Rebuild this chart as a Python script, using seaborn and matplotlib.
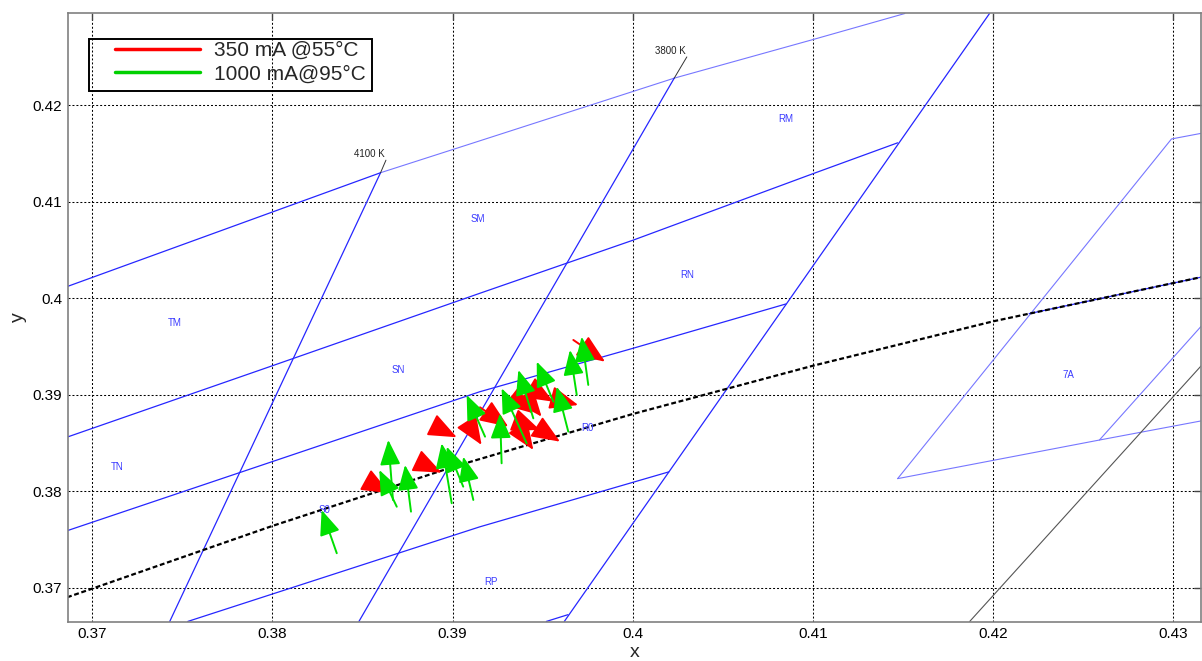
import matplotlib
matplotlib.use("Agg")
import numpy as np
import seaborn as sns
import matplotlib.pyplot as plt
from matplotlib.lines import Line2D
from matplotlib.patches import Rectangle

# --- chromaticity lines (CIE x, y) ---
planck_x = [0.3686, 0.37, 0.38, 0.39, 0.40, 0.41, 0.42, 0.4316]
planck_y = [0.3690, 0.3699, 0.3764, 0.3825, 0.3880, 0.3930, 0.3976, 0.4022]

# solid blue bin boundaries
blue_lines = [
    ([0.3686, 0.3860], [0.4012, 0.4130]),
    ([0.3686, 0.3800, 0.3915, 0.4000, 0.4100, 0.4147], [0.3856, 0.3930, 0.4005, 0.4060, 0.4129, 0.4161]),
    ([0.3686, 0.3915, 0.4000, 0.4085], [0.3759, 0.3903, 0.3948, 0.3994]),
    ([0.3753, 0.3915, 0.4020], [0.3665, 0.3763, 0.3820]),
    ([0.3952, 0.3964], [0.3665, 0.3672]),
    ([0.3743, 0.3860], [0.3665, 0.4130]),
    ([0.3848, 0.4023], [0.3665, 0.4228]),
    ([0.3962, 0.4198], [0.3665, 0.4295]),
    ([0.4220, 0.4316], [0.3984, 0.4022]),
]
# lighter blue boundaries
light_lines = [
    ([0.3860, 0.3910, 0.4023, 0.4100, 0.4151], [0.4130, 0.4160, 0.4228, 0.4268, 0.4295]),
    ([0.4147, 0.4299, 0.4316], [0.3813, 0.4165, 0.4171]),
    ([0.4147, 0.4259, 0.4316], [0.3813, 0.3853, 0.3873]),
    ([0.4259, 0.4316], [0.3853, 0.3972]),
]
grey_line = ([0.4187, 0.4316], [0.3665, 0.3931])

# isotherm ticks and labels
cct_x = [[0.3860, 0.3863], [0.4023, 0.4030]]
cct_y = [[0.4130, 0.4143], [0.4228, 0.4250]]
cct_labels = ["4100 K", "3800 K"]
cct_lx = [0.3854, 0.4021]
cct_ly = [0.4149, 0.4256]

bin_names = ["TM", "TN", "SM", "SN", "RM", "RN", "R0", "RP", "S0", "7A"]
bin_x = [0.3746, 0.3714, 0.3914, 0.3870, 0.4085, 0.4030, 0.3975, 0.3921, 0.3829, 0.4242]
bin_y = [0.3974, 0.3825, 0.4082, 0.3926, 0.4186, 0.4024, 0.3865, 0.3706, 0.3781, 0.3920]

# --- colour shift arrows (tail -> tip) ---
red_x0 = [0.38551, 0.38912, 0.38823, 0.39096, 0.39152, 0.39365, 0.39448, 0.39559, 0.39365, 0.39374, 0.39494, 0.39670, 0.39411]
red_y0 = [0.38082, 0.38662, 0.38295, 0.38668, 0.38869, 0.38927, 0.39049, 0.38963, 0.38720, 0.38634, 0.38634, 0.39567, 0.38963]
red_x1 = [0.38652, 0.39023, 0.38939, 0.39161, 0.39309, 0.39448, 0.39559, 0.39697, 0.39485, 0.39448, 0.39596, 0.39846, 0.39494]
red_y1 = [0.37978, 0.38559, 0.38192, 0.38479, 0.38668, 0.38807, 0.38927, 0.38893, 0.38634, 0.38427, 0.38513, 0.39342, 0.38772]

green_x0 = [0.38357, 0.38669, 0.38690, 0.38769, 0.38995, 0.39059, 0.39115, 0.39180, 0.39272, 0.39411, 0.39448, 0.39559, 0.39642, 0.39689, 0.39753]
green_y0 = [0.37357, 0.37909, 0.37839, 0.37788, 0.37875, 0.38047, 0.37909, 0.38565, 0.38289, 0.38496, 0.38755, 0.38928, 0.38617, 0.38997, 0.39101]
green_x1 = [0.38273, 0.38643, 0.38593, 0.38736, 0.38939, 0.38967, 0.39059, 0.39078, 0.39263, 0.39272, 0.39365, 0.39467, 0.39578, 0.39651, 0.39716]
green_y1 = [0.37805, 0.38531, 0.38220, 0.38272, 0.38496, 0.38461, 0.38358, 0.38997, 0.38807, 0.39066, 0.39256, 0.39342, 0.39083, 0.39463, 0.39601]

legend_labels = ["350 mA @55\u00b0C", "1000 mA@95\u00b0C"]

sns.set_style("white")
plt.rcParams["font.family"] = ["Liberation Sans", "DejaVu Sans"]

fig = plt.figure(figsize=(12.02, 6.61), dpi=100)
ax = fig.add_axes([0.0563, 0.0595, 0.9429, 0.9204])


def draw(xs, ys, color, lw, ls="-"):
    sns.lineplot(x=xs, y=ys, sort=False, estimator=None, color=color,
                 linewidth=lw, linestyle=ls, ax=ax, legend=False)


for xs, ys in light_lines:
    draw(xs, ys, "#7777ff", 0.8)
for xs, ys in blue_lines:
    draw(xs, ys, "#2626ff", 0.9)
draw(grey_line[0], grey_line[1], "#555555", 0.8)
draw(planck_x, planck_y, "black", 1.6, (0, (2.2, 1.2)))

for xs, ys in zip(cct_x, cct_y):
    draw(xs, ys, "#333333", 0.7)
for lab, lx, ly in zip(cct_labels, cct_lx, cct_ly):
    ax.text(lx, ly, lab, fontsize=7, color="#222222", ha="center", va="center")
for lab, lx, ly in zip(bin_names, bin_x, bin_y):
    ax.text(lx, ly, lab, fontsize=7, color="#3b3bff", ha="center", va="center")


def arrows(x0, y0, x1, y1, color, ms):
    for a, b, c, d in zip(x0, y0, x1, y1):
        ax.annotate("", xy=(c, d), xytext=(a, b),
                    arrowprops=dict(arrowstyle="-|>,head_length=1.1,head_width=0.45",
                                    mutation_scale=ms, color=color, lw=1.4,
                                    shrinkA=0, shrinkB=0))


arrows(red_x0, red_y0, red_x1, red_y1, "#ff0000", 16)
arrows(green_x0, green_y0, green_x1, green_y1, "#00e000", 14)

ax.set_xlim(0.368635, 0.43154)
ax.set_ylim(0.366477, 0.429523)
ax.set_xticks([0.37, 0.38, 0.39, 0.40, 0.41, 0.42, 0.43])
ax.set_xticklabels(["0.37", "0.38", "0.39", "0.4", "0.41", "0.42", "0.43"])
ax.set_yticks([0.37, 0.38, 0.39, 0.40, 0.41, 0.42])
ax.set_yticklabels(["0.37", "0.38", "0.39", "0.4", "0.41", "0.42"])
ax.tick_params(direction="in", length=5, width=1, top=True, right=True,
               colors="#444444", labelcolor="black", labelsize=11, pad=4)
ax.grid(True, linestyle=(0, (1.9, 1.9)), color="black", linewidth=0.75)
for s in ax.spines.values():
    s.set_color("#808080")
    s.set_linewidth(1.2)
ax.set_xlabel("x", fontsize=14, labelpad=2)
ax.set_ylabel("y", fontsize=14, labelpad=4)

# legend: transparent box (grid shows through), entries indented as in the original
ax.add_patch(Rectangle((0.01906, 0.8728), 0.2491, 0.0850, transform=ax.transAxes,
                       facecolor="none", edgecolor="black", lw=1.4, zorder=6))
handles = [Line2D([], [], color="#ff0000", lw=2.5), Line2D([], [], color="#00d000", lw=2.5)]
leg = ax.legend(handles, legend_labels, loc="upper left", bbox_to_anchor=(0.0417, 0.9545),
                fontsize=15, frameon=False, handlelength=4.1, handletextpad=0.65,
                borderpad=0, labelspacing=0.22, borderaxespad=0)

fig.savefig("out.png", dpi=100)
